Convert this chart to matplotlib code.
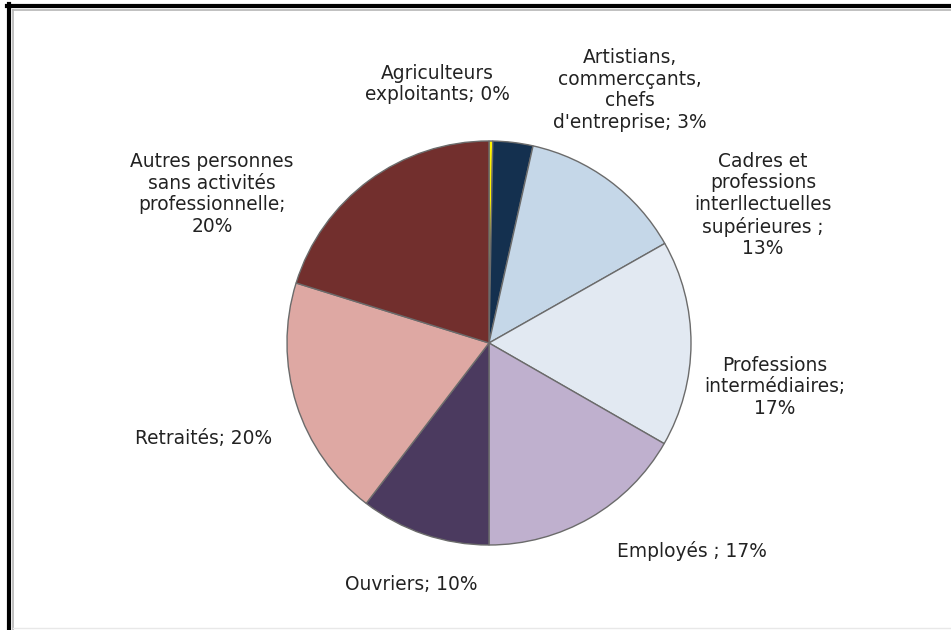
import matplotlib.pyplot as plt
from matplotlib.lines import Line2D

# slice values (clockwise from 12 o'clock)
categories = ["Agriculteurs exploitants", "Artisans", "Cadres", "Professions intermédiaires",
              "Employés", "Ouvriers", "Retraités", "Autres"]
values = [0.3, 3.2, 13.3, 16.5, 16.7, 10.4, 19.4, 20.2]
labels = ["Agriculteurs\nexploitants; 0%",
          "Artistians,\ncommercçants,\nchefs\nd'entreprise; 3%",
          "Cadres et\nprofessions\ninterllectuelles\nsupérieures ;\n13%",
          "Professions\nintermédiaires;\n17%",
          "Employés ; 17%",
          "Ouvriers; 10%",
          "Retraités; 20%",
          "Autres personnes\nsans activités\nprofessionnelle;\n20%"]
colors = ["#FFF200", "#14304F", "#C5D7E8", "#E2E9F2", "#BFB0CE", "#4B3A5F", "#DEA8A3", "#722F2D"]

# label centres in pixel space (x, y from top)
label_pos = [(437, 84), (630, 90), (763, 205), (775, 387), (692, 551), (411, 585), (204, 439), (212, 194)]

W, H = 951, 630
fig = plt.figure(figsize=(W / 100, H / 100), dpi=100)
ax = fig.add_axes([0, 0, 1, 1])

ax.pie(values, colors=colors, startangle=90, counterclock=False,
       center=(489, H - 343), radius=202, frame=True,
       wedgeprops=dict(edgecolor="#6b6b6b", linewidth=1.0))
ax.set_xlim(0, W)
ax.set_ylim(0, H)
ax.set_aspect("equal")
ax.axis("off")

for lab, (x, y) in zip(labels, label_pos):
    ax.text(x, H - y, lab, ha="center", va="center", fontsize=13.4,
            color="#222222", linespacing=1.17, family="DejaVu Sans")

# outer frame (black on top and left, thin grey inside)
fig.add_artist(Line2D([7 / W, 1], [1 - 6 / H, 1 - 6 / H], color="black", lw=3, transform=fig.transFigure))
fig.add_artist(Line2D([9 / W, 9 / W], [0, 1 - 4 / H], color="black", lw=3, transform=fig.transFigure))
fig.add_artist(Line2D([12.5 / W, 1], [1 - 9.5 / H, 1 - 9.5 / H], color="#b5b5b5", lw=1.2, transform=fig.transFigure))
fig.add_artist(Line2D([12.5 / W, 12.5 / W], [0, 1 - 9.5 / H], color="#b5b5b5", lw=1.2, transform=fig.transFigure))
fig.add_artist(Line2D([12.5 / W, 1], [2 / H, 2 / H], color="#e8e8e8", lw=1, transform=fig.transFigure))

fig.savefig("out.png", dpi=100)
